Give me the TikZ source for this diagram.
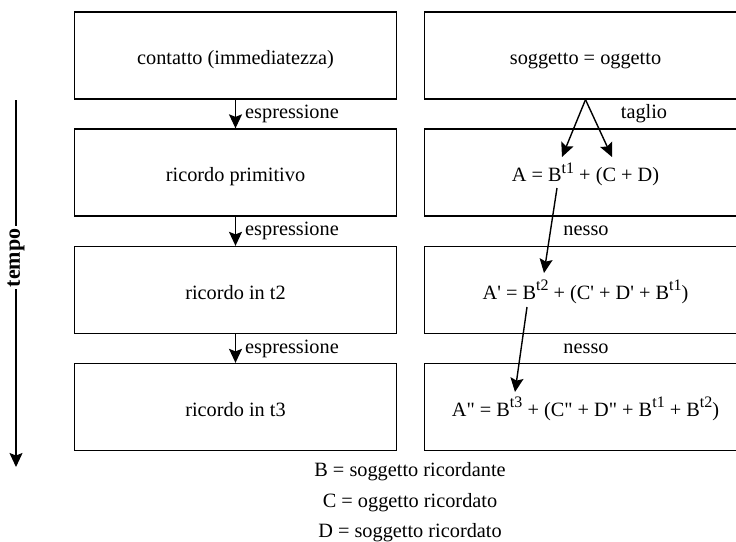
\documentclass[tikz,border=0pt]{standalone}
\usepackage{fontspec}
\setmainfont{Liberation Serif}[Ligatures=TeXOff]
\usetikzlibrary{arrows.meta}

\newcommand{\tsup}[1]{\raisebox{8.5pt}{\fontsize{16}{16}\selectfont #1}}

\begin{document}
\begin{tikzpicture}[x=1pt, y=-1pt, font=\fontsize{20.3}{24}\selectfont,
  box/.style={draw, line width=1.3pt, minimum width=322pt, minimum height=87pt, inner sep=0pt, text height=20pt, text depth=2pt},
  arr/.style={-{Stealth[length=14pt,width=13pt,inset=2.5pt]}, line width=1.4pt},
  lab/.style={inner sep=1pt}]
\clip (0,0) rectangle (736,541);

\node[box] (c) at (235.5,55.5) {contatto (immediatezza)};
\node[box] (rp) at (235.5,172.5) {ricordo primitivo};
\node[box] (rt2) at (235.5,290) {ricordo in t2};
\node[box] (rt3) at (235.5,407) {ricordo in t3};

\node[box] (so) at (585.5,55.5) {soggetto = oggetto};
\node[box] (a) at (585.5,172.5) {A = B\tsup{t1} + (C + D)};
\node[box] (a1) at (585.5,290) {A' = B\tsup{t2} + (C' + D' + B\tsup{t1})};
\node[box] (a2) at (585.5,407) {A" = B\tsup{t3} + (C" + D" + B\tsup{t1} + B\tsup{t2})};

\draw[arr] (c) -- node[lab, right=8pt] {espressione} (rp);
\draw[arr] (rp) -- node[lab, right=8pt] {espressione} (rt2);
\draw[arr] (rt2) -- node[lab, right=8pt] {espressione} (rt3);

\coordinate (tl) at (562,157);
\coordinate (tr) at (612,157);
\draw[arr] (so.south) -- (tl);
\draw[arr] (so.south) -- (tr);
\node[lab] (taglio) at (644,114) {taglio};

\coordinate (n1a) at (557,188);
\coordinate (n1b) at (544,273);
\draw[arr] (n1a) -- (n1b);
\node[lab] (nesso1) at (586,231) {nesso};

\coordinate (n2a) at (527,307);
\coordinate (n2b) at (515,392);
\draw[arr] (n2a) -- (n2b);
\node[lab] (nesso2) at (586,349) {nesso};

% asse del tempo
\coordinate (ttop) at (16,100);
\coordinate (tbot) at (16,467);
\draw[arr] (ttop) -- node[pos=0.43, rotate=90, fill=white, inner sep=2pt, font=\fontsize{22}{24}\selectfont\bfseries] {tempo} (tbot);

% legenda
\node (lb) at (410,472) {B = soggetto ricordante};
\node (lc) at (410,503) {C = oggetto ricordato};
\node (ld) at (410,533) {D = soggetto ricordato};

\end{tikzpicture}
\end{document}
